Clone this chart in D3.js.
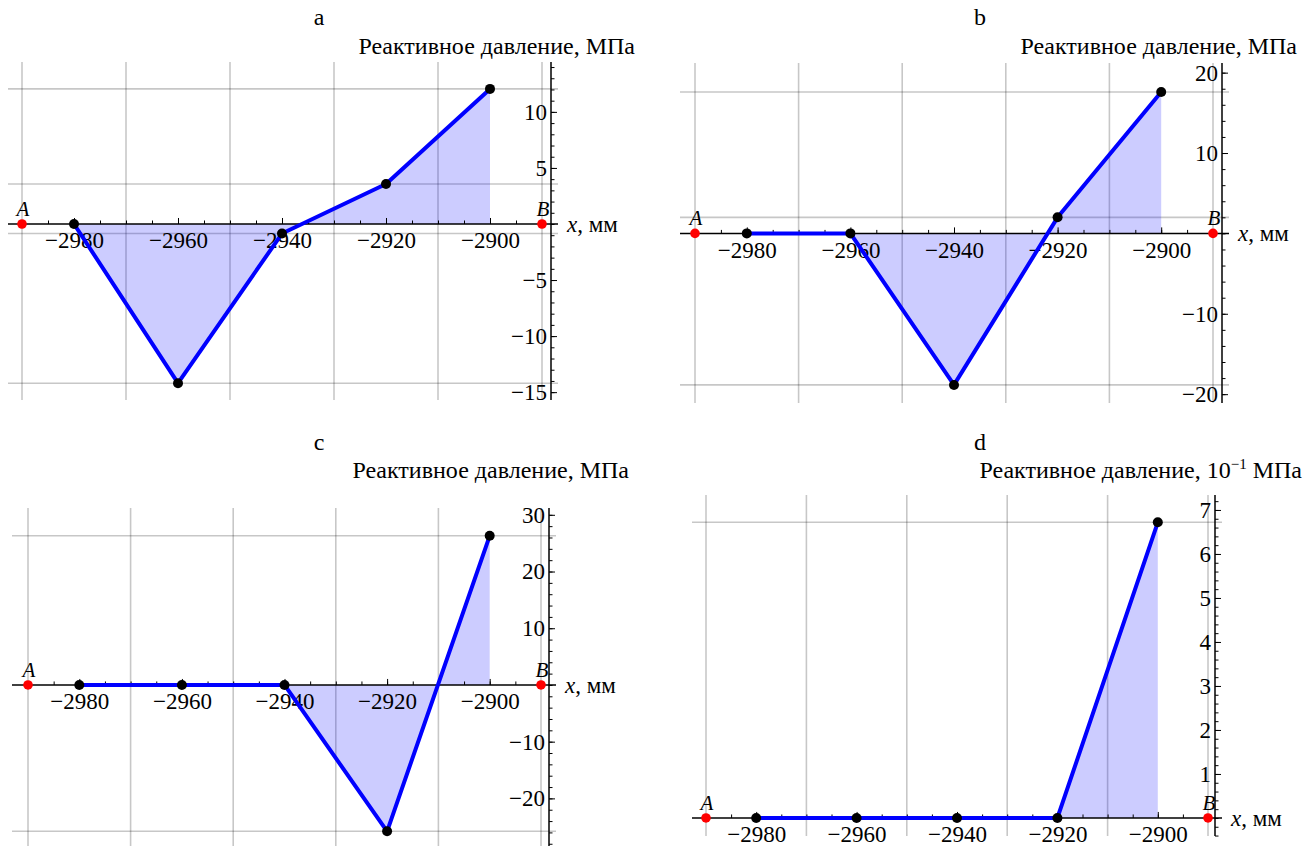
<!DOCTYPE html>
<html>
<head>
<meta charset="utf-8">
<script src="https://cdn.jsdelivr.net/npm/d3@7"></script>
<style>
    body { margin: 0; background: #fff; }
</style>
</head>
<body>
<script>
'use strict';

var serif = '"Liberation Serif", "DejaVu Serif", "Times New Roman", serif';

// points along the beam, mm
var xPoints = [-2980, -2960, -2940, -2920, -2900];
var supports = [-2990, -2890];
var supportNames = ['A', 'B'];
var xTicks = [-2980, -2960, -2940, -2920, -2900];
var xGrid = [-2990, -2970, -2950, -2930, -2910, -2890];

// reactive pressure at each point
var pressureA = [0, -14.2, -0.85, 3.57, 12.05];
var pressureB = [0, 0, -18.85, 2.0, 17.6];
var pressureC = [0, 0, 0, -25.8, 26.3];
var pressureD = [0, 0, 0, 0, 6.72];

var yTicksA = [-15, -10, -5, 5, 10];
var yTicksB = [-20, -10, 10, 20];
var yTicksC = [-20, -10, 10, 20, 30];
var yTicksD = [1, 2, 3, 4, 5, 6, 7];

var panelNames = ['a', 'b', 'c', 'd'];
var yTitle = 'Реактивное давление, ';

// pixel layout of each panel
var panels = [
    { name: panelNames[0], values: pressureA, ticks: yTicksA, minor: 1, yDomain: [-15.7, 14.45],
      xRange: [22, 542], left: 8, axisX: 551, top: 62, bottom: 400,
      titleX: 319, titleY: 25, labelRight: 635, labelY: 54, power: false },
    { name: panelNames[1], values: pressureB, ticks: yTicksB, minor: 2, yDomain: [-21.1, 21.2],
      xRange: [695, 1213], left: 680, axisX: 1222, top: 63, bottom: 403,
      titleX: 980, titleY: 25, labelRight: 1297, labelY: 54, power: false },
    { name: panelNames[2], values: pressureC, ticks: yTicksC, minor: 2, yDomain: [-29.1, 31.2],
      xRange: [28, 541], left: 12, axisX: 549, top: 508, bottom: 850,
      titleX: 319, titleY: 450, labelRight: 629, labelY: 478, power: false },
    { name: panelNames[3], values: pressureD, ticks: yTicksD, minor: 0.2, yDomain: [-0.41, 7.34],
      xRange: [706, 1208], left: 692, axisX: 1215, top: 495, bottom: 836,
      titleX: 980, titleY: 450, labelRight: 1302, labelY: 478, power: true }
];

var width = 1309;
var height = 846;

var svg = d3.select('body').append('svg')
    .attr('width', width)
    .attr('height', height)
    .style('font-family', serif);

panels.forEach(drawPanel);

function drawPanel(p) {
    var x = d3.scaleLinear().domain([supports[0], supports[1]]).range(p.xRange);
    var y = d3.scaleLinear().domain(p.yDomain).range([p.bottom, p.top]);
    var right = p.axisX + 7;
    var y0 = y(0);

    var g = svg.append('g');

    // grid
    g.append('g').selectAll('line')
        .data(xGrid)
        .enter().append('line')
        .attr('x1', function(d) { return x(d); })
        .attr('x2', function(d) { return x(d); })
        .attr('y1', p.top)
        .attr('y2', p.bottom)
        .attr('stroke', '#000')
        .attr('stroke-opacity', 0.22)
        .attr('stroke-width', 1.6);

    g.append('g').selectAll('line')
        .data(p.values.filter(function(v) { return v !== 0; }))
        .enter().append('line')
        .attr('x1', p.left)
        .attr('x2', right)
        .attr('y1', function(d) { return y(d); })
        .attr('y2', function(d) { return y(d); })
        .attr('stroke', '#000')
        .attr('stroke-opacity', 0.22)
        .attr('stroke-width', 1.6);

    var points = xPoints.map(function(d, i) { return { x: d, v: p.values[i] }; });

    var area = d3.area()
        .x(function(d) { return x(d.x); })
        .y0(y0)
        .y1(function(d) { return y(d.v); });

    g.append('path')
        .datum(points)
        .attr('d', area)
        .attr('fill', '#0000ff')
        .attr('fill-opacity', 0.2);

    // x axis
    g.append('line')
        .attr('x1', p.left).attr('x2', right)
        .attr('y1', y0).attr('y2', y0)
        .attr('stroke', '#000')
        .attr('stroke-width', 1.5);

    var xMinor = g.append('g')
        .attr('transform', 'translate(0,' + y0 + ')')
        .call(d3.axisBottom(x).tickValues(d3.range(-2990, -2889, 5)).tickSize(-3.5).tickFormat(''));
    xMinor.select('.domain').remove();

    var xMajor = g.append('g')
        .attr('transform', 'translate(0,' + y0 + ')')
        .call(d3.axisBottom(x).tickValues(xTicks).tickSize(-6).tickPadding(8).tickFormat(d3.format('d')));
    xMajor.select('.domain').remove();
    xMajor.attr('font-family', null).attr('font-size', null);
    xMajor.selectAll('text')
        .style('font-family', serif)
        .style('font-size', '23px');

    // y axis
    g.append('line')
        .attr('x1', p.axisX).attr('x2', p.axisX)
        .attr('y1', p.top).attr('y2', p.bottom)
        .attr('stroke', '#000')
        .attr('stroke-width', 1.5);

    var lo = Math.ceil(p.yDomain[0] / p.minor);
    var hi = Math.floor(p.yDomain[1] / p.minor);
    var yMinorTicks = d3.range(lo, hi + 1).map(function(k) { return +(k * p.minor).toFixed(3); });

    var yMinor = g.append('g')
        .attr('transform', 'translate(' + p.axisX + ',0)')
        .call(d3.axisLeft(y).tickValues(yMinorTicks).tickSize(-3.5).tickFormat(''));
    yMinor.select('.domain').remove();

    var yMajor = g.append('g')
        .attr('transform', 'translate(' + p.axisX + ',0)')
        .call(d3.axisLeft(y).tickValues(p.ticks).tickSize(-6).tickPadding(4).tickFormat(d3.format('d')));
    yMajor.select('.domain').remove();
    yMajor.attr('font-family', null).attr('font-size', null);
    yMajor.selectAll('text')
        .style('font-family', serif)
        .style('font-size', '23px');

    g.selectAll('.tick line').attr('stroke', '#000').attr('stroke-width', 1);

    // pressure line
    var line = d3.line()
        .x(function(d) { return x(d.x); })
        .y(function(d) { return y(d.v); });

    g.append('path')
        .datum(points)
        .attr('d', line)
        .attr('fill', 'none')
        .attr('stroke', '#0000ff')
        .attr('stroke-width', 4)
        .attr('stroke-linejoin', 'round');

    g.append('g').selectAll('circle')
        .data(points)
        .enter().append('circle')
        .attr('cx', function(d) { return x(d.x); })
        .attr('cy', function(d) { return y(d.v); })
        .attr('r', 5)
        .attr('fill', '#000');

    // supports A and B
    g.append('g').selectAll('circle')
        .data(supports)
        .enter().append('circle')
        .attr('cx', function(d) { return x(d); })
        .attr('cy', y0)
        .attr('r', 4.8)
        .attr('fill', '#ff0000');

    g.append('g').selectAll('text')
        .data(supports)
        .enter().append('text')
        .attr('x', function(d) { return x(d) + 1; })
        .attr('y', y0 - 8)
        .attr('text-anchor', 'middle')
        .style('font-size', '21px')
        .style('font-style', 'italic')
        .text(function(d, i) { return supportNames[i]; });

    // axis names
    var xl = g.append('text')
        .attr('x', right + 9)
        .attr('y', y0 + 8)
        .style('font-size', '23px');
    xl.append('tspan').style('font-style', 'italic').text('x');
    xl.append('tspan').text(', мм');

    var yl = g.append('text')
        .attr('x', p.labelRight)
        .attr('y', p.labelY)
        .attr('text-anchor', 'end')
        .style('font-size', '24px');
    if (p.power) {
        yl.append('tspan').text(yTitle + '10');
        yl.append('tspan').attr('dy', -9).style('font-size', '15px').text('\u22121');
        yl.append('tspan').attr('dy', 9).text(' МПа');
    } else {
        yl.text(yTitle + 'МПа');
    }

    g.append('text')
        .attr('x', p.titleX)
        .attr('y', p.titleY)
        .attr('text-anchor', 'middle')
        .style('font-size', '24px')
        .text(p.name);
}
</script>
</body>
</html>
